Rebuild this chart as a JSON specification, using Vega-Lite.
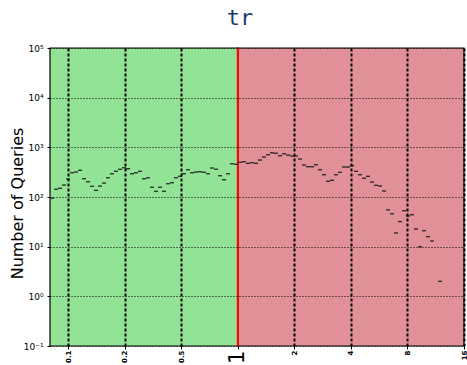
{
  "$schema": "https://vega.github.io/schema/vega-lite/v6.json",
  "width": 414,
  "height": 298,
  "autosize": {"type": "none"},
  "padding": {"left": 50, "top": 48, "right": 3, "bottom": 19},
  "background": "white",
  "title": {
    "text": "tr",
    "font": "DejaVu Sans Mono",
    "fontSize": 22,
    "fontWeight": "normal",
    "color": "#1c3b6e",
    "anchor": "middle",
    "frame": "group",
    "dx": -17,
    "offset": 14
  },
  "config": {
    "view": {"stroke": null},
    "axis": {"labelFont": "DejaVu Sans", "titleFont": "DejaVu Sans"}
  },
  "datasets": {
    "bands": [
      {"ratio": 0.1, "ratio_end": 1, "zone": "faster"},
      {"ratio": 1, "ratio_end": 16, "zone": "slower"}
    ],
    "ref": [{"ratio": 1}],
    "counts": [
      {"ratio": 0.1025, "n": 95},
      {"ratio": 0.1077, "n": 143},
      {"ratio": 0.1131, "n": 150},
      {"ratio": 0.1187, "n": 174},
      {"ratio": 0.1247, "n": 230},
      {"ratio": 0.1310, "n": 308},
      {"ratio": 0.1375, "n": 318},
      {"ratio": 0.1445, "n": 344},
      {"ratio": 0.1517, "n": 233},
      {"ratio": 0.1593, "n": 203},
      {"ratio": 0.1674, "n": 164},
      {"ratio": 0.1758, "n": 136},
      {"ratio": 0.1846, "n": 166},
      {"ratio": 0.1939, "n": 191},
      {"ratio": 0.2036, "n": 244},
      {"ratio": 0.2139, "n": 294},
      {"ratio": 0.2246, "n": 329},
      {"ratio": 0.2359, "n": 361},
      {"ratio": 0.2478, "n": 389},
      {"ratio": 0.2602, "n": 371},
      {"ratio": 0.2733, "n": 294},
      {"ratio": 0.2870, "n": 308},
      {"ratio": 0.3015, "n": 329},
      {"ratio": 0.3166, "n": 233},
      {"ratio": 0.3325, "n": 244},
      {"ratio": 0.3492, "n": 157},
      {"ratio": 0.3668, "n": 130},
      {"ratio": 0.3852, "n": 157},
      {"ratio": 0.4046, "n": 130},
      {"ratio": 0.4249, "n": 185},
      {"ratio": 0.4463, "n": 194},
      {"ratio": 0.4687, "n": 244},
      {"ratio": 0.4922, "n": 261},
      {"ratio": 0.5170, "n": 294},
      {"ratio": 0.5430, "n": 354},
      {"ratio": 0.5703, "n": 308},
      {"ratio": 0.5989, "n": 318},
      {"ratio": 0.6290, "n": 323},
      {"ratio": 0.6607, "n": 314},
      {"ratio": 0.6939, "n": 294},
      {"ratio": 0.7287, "n": 383},
      {"ratio": 0.7654, "n": 361},
      {"ratio": 0.8038, "n": 268},
      {"ratio": 0.8442, "n": 223},
      {"ratio": 0.8867, "n": 294},
      {"ratio": 0.9312, "n": 467},
      {"ratio": 0.9780, "n": 455},
      {"ratio": 1.0272, "n": 499},
      {"ratio": 1.0788, "n": 514},
      {"ratio": 1.1330, "n": 476},
      {"ratio": 1.1900, "n": 491},
      {"ratio": 1.2498, "n": 476},
      {"ratio": 1.3126, "n": 555},
      {"ratio": 1.3785, "n": 638},
      {"ratio": 1.4479, "n": 710},
      {"ratio": 1.5206, "n": 778},
      {"ratio": 1.5971, "n": 757},
      {"ratio": 1.6773, "n": 678},
      {"ratio": 1.7616, "n": 743},
      {"ratio": 1.8502, "n": 700},
      {"ratio": 1.9432, "n": 668},
      {"ratio": 2.0408, "n": 668},
      {"ratio": 2.1435, "n": 582},
      {"ratio": 2.2511, "n": 440},
      {"ratio": 2.3644, "n": 407},
      {"ratio": 2.4831, "n": 407},
      {"ratio": 2.6078, "n": 447},
      {"ratio": 2.7390, "n": 354},
      {"ratio": 2.8766, "n": 281},
      {"ratio": 3.0211, "n": 207},
      {"ratio": 3.1731, "n": 217},
      {"ratio": 3.3325, "n": 281},
      {"ratio": 3.5001, "n": 314},
      {"ratio": 3.6759, "n": 402},
      {"ratio": 3.8606, "n": 402},
      {"ratio": 4.0546, "n": 427},
      {"ratio": 4.2582, "n": 329},
      {"ratio": 4.4724, "n": 281},
      {"ratio": 4.6971, "n": 238},
      {"ratio": 4.9330, "n": 261},
      {"ratio": 5.1813, "n": 200},
      {"ratio": 5.4415, "n": 172},
      {"ratio": 5.7153, "n": 166},
      {"ratio": 6.0024, "n": 132},
      {"ratio": 6.3039, "n": 55},
      {"ratio": 6.6211, "n": 46},
      {"ratio": 6.9537, "n": 18.9},
      {"ratio": 7.3030, "n": 32},
      {"ratio": 7.6706, "n": 53},
      {"ratio": 8.0559, "n": 41.5},
      {"ratio": 8.4613, "n": 44},
      {"ratio": 8.8863, "n": 22.7},
      {"ratio": 9.3327, "n": 10},
      {"ratio": 9.8023, "n": 21},
      {"ratio": 10.295, "n": 15.9},
      {"ratio": 10.813, "n": 13},
      {"ratio": 11.926, "n": 2}
    ]
  },
  "encoding": {
    "x": {
      "field": "ratio",
      "type": "quantitative",
      "scale": {"type": "log", "base": 2, "domain": [0.1, 16], "nice": false},
      "axis": {
        "title": null,
        "values": [0.125, 0.25, 0.5, 1, 2, 4, 8, 16],
        "labelExpr": "datum.value == 0.125 ? '0.1' : datum.value == 0.25 ? '0.2' : datum.value == 0.5 ? '0.5' : format(datum.value, 'd')",
        "labelAngle": -90,
        "labelFontWeight": {"condition": {"test": "datum.value == 1", "value": "normal"}, "value": "bold"},
        "labelFontSize": {"condition": {"test": "datum.value == 1", "value": 21}, "value": 7},
        "labelColor": "black",
        "labelPadding": 1,
        "labelFlush": false,
        "labelOverlap": false,
        "labelBound": false,
        "ticks": true,
        "tickSize": 3,
        "tickColor": "black",
        "domain": false,
        "grid": true,
        "gridColor": "black",
        "gridOpacity": {"condition": {"test": "datum.value == 1", "value": 0}, "value": 1},
        "gridWidth": 2,
        "gridDash": [3, 2],
        "zindex": 1
      }
    }
  },
  "layer": [
    {
      "data": {"name": "bands"},
      "mark": {"type": "rect", "stroke": "black", "strokeWidth": 1.2},
      "encoding": {
        "x2": {"field": "ratio_end"},
        "color": {
          "field": "zone",
          "type": "nominal",
          "scale": {"domain": ["faster", "slower"], "range": ["#92e396", "#e19097"]},
          "legend": null
        }
      }
    },
    {
      "data": {"name": "ref"},
      "mark": {"type": "rule", "color": "#ff0000", "strokeWidth": 2},
      "encoding": {}
    },
    {
      "data": {"name": "counts"},
      "mark": {"type": "tick", "orient": "horizontal", "size": 4, "thickness": 1.4, "color": "#1a1a1a", "opacity": 0.85},
      "encoding": {
        "y": {
          "field": "n",
          "type": "quantitative",
          "scale": {"type": "log", "domain": [0.1, 100000], "nice": false},
          "axis": {
            "title": "Number of Queries",
            "titleFontSize": 16,
            "titleFontWeight": "normal",
            "titleColor": "black",
            "titleBaseline": "alphabetic",
            "titleX": -28,
            "titleY": 155,
            "titleAlign": "center",
            "values": [0.1, 1, 10, 100, 1000, 10000, 100000],
            "labelExpr": "['10⁻¹','10⁰','10¹','10²','10³','10⁴','10⁵'][round(log(datum.value)/LN10) + 1]",
            "labelFontSize": 9,
            "labelColor": "black",
            "labelPadding": 4,
            "labelFlush": false,
            "labelOverlap": false,
            "labelBound": false,
            "ticks": true,
            "tickSize": 3,
            "tickColor": "black",
            "domain": false,
            "grid": true,
            "gridColor": "black",
            "gridWidth": 1,
            "gridDash": [1, 2],
            "zindex": 1
          }
        }
      }
    }
  ]
}
